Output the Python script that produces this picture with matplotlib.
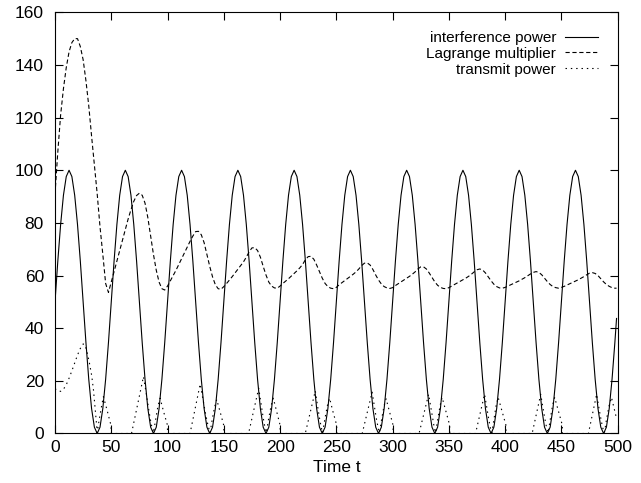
import numpy as np
import matplotlib
matplotlib.use("Agg")
import matplotlib.pyplot as plt

plt.rcParams['font.family'] = ['Liberation Sans', 'DejaVu Sans']

# time grid for the sampled series (step 2.5, last sample at t=499)
t = list(np.arange(0, 500, 2.5)) + [499.0]

interference = [
    50, 65.5, 79.4, 90.5, 97.6, 100, 97.6, 90.5, 79.4, 65.5, 50, 34.5, 20.6, 9.5, 2.4, 0, 2.4, 9.5, 20.6, 34.5,
    50, 65.5, 79.4, 90.5, 97.6, 100, 97.6, 90.5, 79.4, 65.5, 50, 34.5, 20.6, 9.5, 2.4, 0, 2.4, 9.5, 20.6, 34.5,
    50, 65.5, 79.4, 90.5, 97.6, 100, 97.6, 90.5, 79.4, 65.5, 50, 34.5, 20.6, 9.5, 2.4, 0, 2.4, 9.5, 20.6, 34.5,
    50, 65.5, 79.4, 90.5, 97.6, 100, 97.6, 90.5, 79.4, 65.5, 50, 34.5, 20.6, 9.5, 2.4, 0, 2.4, 9.5, 20.6, 34.5,
    50, 65.5, 79.4, 90.5, 97.6, 100, 97.6, 90.5, 79.4, 65.5, 50, 34.5, 20.6, 9.5, 2.4, 0, 2.4, 9.5, 20.6, 34.5,
    50, 65.5, 79.4, 90.5, 97.6, 100, 97.6, 90.5, 79.4, 65.5, 50, 34.5, 20.6, 9.5, 2.4, 0, 2.4, 9.5, 20.6, 34.5,
    50, 65.5, 79.4, 90.5, 97.6, 100, 97.6, 90.5, 79.4, 65.5, 50, 34.5, 20.6, 9.5, 2.4, 0, 2.4, 9.5, 20.6, 34.5,
    50, 65.5, 79.4, 90.5, 97.6, 100, 97.6, 90.5, 79.4, 65.5, 50, 34.5, 20.6, 9.5, 2.4, 0, 2.4, 9.5, 20.6, 34.5,
    50, 65.5, 79.4, 90.5, 97.6, 100, 97.6, 90.5, 79.4, 65.5, 50, 34.5, 20.6, 9.5, 2.4, 0, 2.4, 9.5, 20.6, 34.5,
    50, 65.5, 79.4, 90.5, 97.6, 100, 97.6, 90.5, 79.4, 65.5, 50, 34.5, 20.6, 9.5, 2.4, 0, 2.4, 9.5, 20.6, 34.5,
    43.7,
]

lagrange = [
    91, 107, 121, 131, 139, 145, 148.5, 150, 150, 147, 142, 134, 124.5, 113, 102, 91, 78.5, 68, 57, 53.6,
    57.5, 61.5, 65.5, 69.5, 73.5, 77.5, 81.5, 85, 88.2, 90.4, 91.3, 90.5, 87.5, 82, 75, 68, 62, 57.5, 55, 54.5,
    56, 58, 60, 62, 64.2, 66.4, 68.6, 70.8, 73, 75, 76.7, 76.8, 75.5, 72.5, 68, 63.5, 59.5, 56.5, 55, 54.8,
    55.8, 57, 58.3, 59.6, 61, 62.4, 63.8, 65.2, 67, 69, 70.5, 70.6, 69.5, 67, 63.5, 60.2, 57.5, 56, 55.3, 55.2,
    56, 57, 57.9, 58.8, 59.8, 60.8, 61.8, 62.9, 64.2, 66, 67.2, 67.3, 66.2, 64, 61.5, 59, 57, 55.8, 55.2, 55,
    55.5, 56.5, 57.3, 58.1, 58.9, 59.7, 60.5, 61.4, 62.5, 63.8, 64.7, 64.8, 64, 62.3, 60.2, 58.3, 56.8, 55.8, 55.3, 55.1,
    55.4, 56.2, 56.9, 57.6, 58.3, 59, 59.7, 60.5, 61.4, 62.5, 63.3, 63.3, 62.5, 61, 59.3, 57.6, 56.3, 55.5, 55.1, 55,
    55.4, 56, 56.6, 57.2, 57.8, 58.4, 59, 59.7, 60.5, 61.4, 62.2, 62.5, 62.1, 61, 59.5, 58, 56.7, 55.8, 55.3, 55.2,
    55.5, 56, 56.5, 57, 57.5, 58, 58.6, 59.2, 59.9, 60.6, 61.2, 61.5, 61.2, 60.3, 59, 57.7, 56.6, 55.8, 55.4, 55.2,
    55.5, 55.9, 56.4, 56.9, 57.4, 57.9, 58.4, 59, 59.6, 60.3, 60.9, 61.1, 60.8, 60, 58.8, 57.6, 56.6, 55.9, 55.4, 55.2,
    55.2,
]

transmit_t = [
    0, 2.5, 5, 7.5, 10, 12.5, 15, 17.5, 20, 22.5, 25, 26.5, 28.2, 30.5, 32.6, 34.2, 35.6, 36.7, 37.5, 39, 41, 43, 46.5, 49.8, 49.9,
    68, 78.6, 81, 83.5, 85.5, 87.5, 89.5, 91.5, 93.4, 96.5, 99.9, 100,
    120, 129, 131.5, 134, 136, 137.8, 139.8, 141.8, 143.7, 147, 150, 150.1,
    172, 181, 183, 185, 186.5, 187.8, 189.8, 192, 194, 197, 200, 200.1,
    222.4, 231.3, 233.3, 235, 236.5, 237.8, 239.8, 242, 244, 247, 250.3, 250.4,
    273, 281.8, 283.8, 285.5, 287, 288.3, 290.3, 292.3, 294.2, 297.3, 300.4, 300.5,
    323.5, 332, 334, 335.5, 337, 338.2, 340.2, 342.2, 344, 347.3, 350.7, 350.8,
    373.7, 381.7, 383.7, 385.3, 386.8, 388.2, 390.2, 392, 393.8, 397.2, 400.7, 400.8,
    424, 431.6, 433.6, 435.2, 436.8, 438.2, 440.2, 442.1, 444, 447.4, 450.8, 450.9,
    474, 481.3, 483.3, 485, 486.6, 488.2, 490.2, 492.4, 494.5, 499,
]
transmit_v = [
    17, 16.3, 16, 16.8, 18.5, 21, 23.8, 26.8, 29.8, 32.3, 34, 33.8, 31.5, 27, 22, 16.5, 10, 4.5, 0.3, 4.5, 9.5, 14, 8.5, 3, 0,
    0, 21.6, 15.5, 8.5, 3.5, 0.3, 5.5, 10.5, 13.4, 8.3, 3.2, 0,
    0, 18.8, 13, 7, 3, 0.3, 5.5, 10, 12.9, 7.8, 3, 0,
    0, 17.2, 11.5, 6, 2.5, 0.3, 5.5, 10.5, 13.4, 8.3, 3.2, 0,
    0, 16.2, 10.5, 6, 2.5, 0.3, 5.5, 10.5, 13.4, 8.3, 3.2, 0,
    0, 15.7, 10.3, 5.8, 2.5, 0.3, 5.5, 10.3, 13.2, 8.2, 3.2, 0,
    0, 14.9, 9.8, 5.8, 2.3, 0.3, 5.6, 10.6, 13.7, 8.5, 3.2, 0,
    0, 14.9, 9.8, 5.8, 2.3, 0.3, 5.6, 10.6, 13.7, 8.5, 3.2, 0,
    0, 14.9, 9.8, 5.8, 2.3, 0.3, 5.6, 10.6, 13.7, 8.5, 3.2, 0,
    0, 14.9, 9.8, 5.8, 2.3, 0.3, 5.6, 10.6, 13.7, 5.7,
]

series_labels = ["interference power", "Lagrange multiplier", "transmit power"]
x_ticks = [0, 50, 100, 150, 200, 250, 300, 350, 400, 450, 500]
y_ticks = [0, 20, 40, 60, 80, 100, 120, 140, 160]

fig = plt.figure(figsize=(6.41, 4.83), dpi=100)
ax = fig.add_axes([0.0858, 0.1025, 0.8778, 0.872])

lw = 0.8
ax.plot(t, interference, color='black', lw=lw, label=series_labels[0])
ax.plot(t, lagrange, color='black', lw=lw, linestyle=(0, (3.8, 2.4)), label=series_labels[1])
ax.plot(transmit_t, transmit_v, color='black', lw=lw, linestyle=(0, (1.3, 3.5)), label=series_labels[2])

ax.set_xlim(0, 500)
ax.set_ylim(0, 160)
ax.set_xticks(x_ticks)
ax.set_yticks(y_ticks)
ax.tick_params(direction='in', length=5.5, width=0.8, top=True, right=True,
               labelsize=12.5, colors='black')
ax.tick_params(axis='x', pad=5)
ax.tick_params(axis='y', pad=8)
for s in ax.spines.values():
    s.set_linewidth(0.8)
    s.set_color('black')
ax.set_xlabel("Time t", fontsize=12.5, labelpad=3)

leg = ax.legend(loc='upper right', bbox_to_anchor=(0.9655, 0.956), frameon=False,
                markerfirst=False, fontsize=11, handlelength=2.2, handletextpad=0.55,
                labelspacing=0.12, borderpad=0, borderaxespad=0)

fig.savefig("out.png", dpi=100)
